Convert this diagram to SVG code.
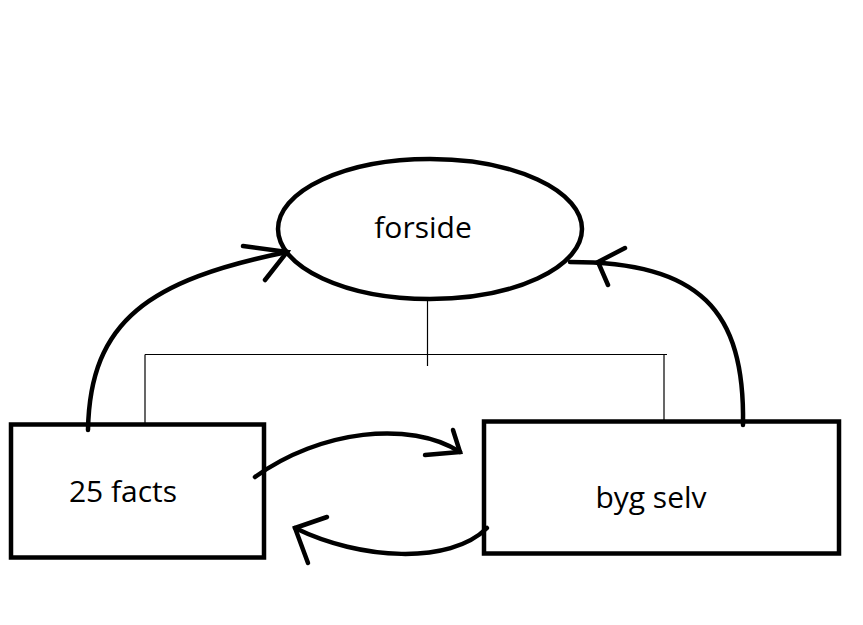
<svg xmlns="http://www.w3.org/2000/svg" width="863" height="625" viewBox="0 0 863 625">
<style>
.node{fill:#fff;stroke:#000;stroke-width:4.5}
.lbl{font-family:"Open Sans","Liberation Sans",sans-serif;font-size:30px;fill:#000}
.thin{fill:none;stroke:#000;stroke-width:1.2}
.arc{fill:none;stroke:#000;stroke-width:4.5;stroke-linecap:round}
</style>
<rect width="863" height="625" fill="#fff"/>
<g id="tree" class="thin">
<path d="M427.5,300 V366"/>
<path d="M145,354.5 H667"/>
<path d="M145,354.5 V433"/>
<path d="M664,354.5 V428"/>
</g>
<g id="forside">
<ellipse class="node" cx="430" cy="229" rx="152" ry="70"/>
<text class="lbl" x="423" y="238" text-anchor="middle">forside</text>
</g>
<g id="facts">
<rect class="node" x="11" y="424.5" width="253" height="133"/>
<text class="lbl" x="123" y="502" text-anchor="middle">25 facts</text>
</g>
<g id="bygselv">
<rect class="node" x="484" y="421.5" width="355" height="132"/>
<text class="lbl" x="651" y="508" text-anchor="middle">byg selv</text>
</g>
<g id="connectors" class="arc">
<path d="M88,430 C90,320 150,280 287,252"/>
<path d="M243,246 L287,252 L265,280"/>
<path d="M743,425 C745,310 700,262 570,262"/>
<path d="M625,248 L598,262 L608,285"/>
<path d="M255,477 C320,430 410,420 460,452"/>
<path d="M453,430 L460,452 L425,455"/>
<path d="M487,528 C450,565 360,560 295,528"/>
<path d="M327,517 L295,528 L308,563"/>
</g>
</svg>
